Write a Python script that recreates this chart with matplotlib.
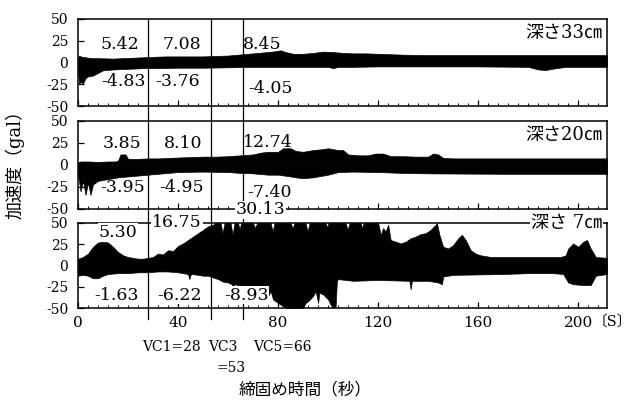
import matplotlib
matplotlib.use("Agg")
import matplotlib.pyplot as plt
from matplotlib.ticker import MultipleLocator, FixedLocator

plt.rcParams['font.family'] = ['DejaVu Serif', 'Noto Sans CJK JP']
plt.rcParams['axes.unicode_minus'] = False

# ---- acceleration envelopes (gal) over compaction time (s) ----
# depth 33 cm
t_up_33 = [0, 0.5, 1, 2, 3, 4, 6, 8, 10, 14, 18, 22, 26, 30, 35, 40, 45, 50, 55, 60,
           64, 68, 72, 76, 79, 81, 83, 86, 90, 94, 98, 102, 106, 110, 115, 120, 125,
           130, 140, 150, 160, 170, 180, 190, 200, 211.5]
up_33 = [6, 8, 7, 6.5, 6, 5.5, 5, 5, 4.8, 4.5, 5, 5.5, 6, 6.5, 7, 7, 7, 7, 7.5, 8,
         9, 10, 11, 12, 13, 14, 12, 10, 10, 11, 12.5, 12, 11, 10.5, 10.5, 10, 9.5,
         9, 8.5, 8.5, 8.5, 8.5, 8.5, 8.5, 8.5, 8.5]
t_lo_33 = [0, 0.5, 1, 2, 3, 4, 6, 8, 10, 14, 18, 22, 26, 30, 40, 50, 60, 70, 80, 90,
           100, 102, 104, 110, 120, 140, 160, 180, 184, 187, 190, 195, 211.5]
lo_33 = [-10, -25, -22, -24, -18, -16, -15, -12, -9, -8, -7.5, -7, -6.5, -6.5, -6,
         -6, -5.5, -5, -5, -5, -5, -6.5, -5, -5, -4.5, -4.5, -4.5, -5, -8, -8.6, -7,
         -5, -5]

# depth 20 cm
t_up_20 = [0, 1, 4, 8, 12, 15, 16, 17, 19, 20, 24, 28, 32, 36, 40, 45, 50, 55, 60,
           65, 70, 73, 76, 80, 82, 85, 87, 90, 94, 98, 100, 104, 106, 108, 112, 116,
           119, 122, 125, 130, 135, 140, 142, 144, 146, 150, 211.5]
up_20 = [3, 4, 4, 3.5, 4, 4, 5, 12, 12, 7, 7, 7.5, 7.5, 8, 8.5, 9, 9.5, 9.5, 10, 11,
         12, 14, 15, 15, 19, 19, 16, 15, 17, 18, 19, 17, 17, 12, 11, 11, 13, 13, 10,
         10, 9.5, 9.5, 13, 12, 8, 7.5, 7.5]
t_lo_20 = [0, 1, 2, 3, 4, 5, 6, 8, 10, 12, 14, 16, 20, 24, 28, 32, 36, 40, 50, 60,
           65, 70, 76, 80, 85, 87, 90, 94, 98, 100, 104, 110, 120, 130, 140, 170, 211.5]
lo_20 = [-10, -30, -18, -34, -20, -34, -22, -18, -17, -16, -15, -14, -13, -12, -11,
         -10, -9, -8, -7.5, -8, -9, -9.5, -11, -11, -13, -14, -15, -14, -12, -11, -8,
         -7.5, -8, -9, -9.5, -10, -10]

# depth 7 cm
t_up_7 = [0, 2, 4, 6, 8, 10, 12, 14, 16, 18, 20, 22, 24, 26, 28, 30, 32, 34, 36, 38,
          40, 42, 44, 46, 48, 50, 52, 54, 55, 57, 57.8, 58.6, 61, 61.8, 62.6, 64,
          64.6, 65.2, 70, 70.8, 71.6, 77, 77.8, 78.6, 85, 85.8, 86.6, 91, 91.8, 92.6,
          99, 99.6, 100.2, 107, 107.8, 108.6, 113, 113.6, 114.2, 120, 121, 122, 123,
          124, 125, 127, 129, 131, 133, 135, 137, 139, 141, 143, 143.5, 144.5, 146,
          148, 150, 152, 153.5, 155, 157, 159, 161, 165, 175, 185, 193, 195, 196,
          198, 200, 202, 203.5, 205, 207, 211.5]
up_7 = [8, 10, 14, 22, 27, 28, 27, 22, 16, 12, 10, 9, 8, 8, 9, 10, 14, 13, 18, 17,
        23, 26, 30, 34, 38, 42, 46, 48, 50, 50, 38, 50, 50, 36, 50, 50, 42, 50, 50,
        44, 50, 50, 40, 50, 50, 44, 50, 50, 40, 50, 50, 45, 50, 50, 42, 50, 50, 44,
        50, 50, 36, 44, 40, 48, 30, 28, 26, 28, 32, 34, 37, 38, 42, 48, 50, 36, 22,
        20, 24, 32, 36, 30, 18, 14, 12, 10, 10, 10, 10, 12, 20, 26, 22, 28, 30, 20,
        10, 9]
t_lo_7 = [0, 2, 4, 6, 8, 10, 12, 16, 20, 24, 28, 32, 36, 40, 44, 44.5, 45, 45.5, 48,
          50, 52, 54, 56, 58, 60, 61.5, 62, 62.5, 64, 66, 68, 70, 72, 74, 75.5, 76,
          77, 78, 80, 82, 83, 90, 91, 92, 94, 95, 96, 96.5, 98, 100, 101, 102, 103,
          103.5, 104, 110, 120, 132.5, 133, 133.5, 140, 144, 145.5, 146, 150, 160,
          170, 180, 190, 194, 196, 198, 202, 205, 207, 211.5]
lo_7 = [-12, -11, -12, -15, -15, -12, -10, -9, -9, -8, -8, -7, -7, -8, -10, -16,
        -11, -10, -11, -12, -12, -14, -16, -19, -20, -22, -35, -22, -23, -24, -26,
        -24, -28, -25, -30, -36, -30, -40, -44, -48, -50, -50, -44, -42, -36, -30,
        -44, -32, -34, -40, -46, -50, -48, -18, -16, -18, -17, -18, -28, -18, -18,
        -20, -22, -13, -11, -10.5, -10, -9, -9, -10, -20, -22, -23, -23, -12, -10]

depth_labels = ['深さ33㎝', '深さ20㎝', '深さ 7㎝']
pos_peaks = ['5.42', '7.08', '8.45', '3.85', '8.10', '12.74', '5.30', '16.75', '30.13']
neg_peaks = ['-4.83', '-3.76', '-4.05', '-3.95', '-4.95', '-7.40', '-1.63', '-6.22', '-8.93']
vc_times = [28, 53, 66]
x_ticks = [0, 40, 80, 120, 160, 200]
y_ticks = [-50, -25, 0, 25, 50]

series = [(t_up_33, up_33, t_lo_33, lo_33),
          (t_up_20, up_20, t_lo_20, lo_20),
          (t_up_7, up_7, t_lo_7, lo_7)]

fig = plt.figure(figsize=(6.34, 4.03), dpi=100)
W, H = 634.0, 403.0
left, right = 78, 607
panel_px = [(19, 106), (121, 209), (223, 308)]
axes = []
for top, bot in panel_px:
    ax = fig.add_axes([left / W, 1 - bot / H, (right - left) / W, (bot - top) / H])
    axes.append(ax)

gaps = [-67, -67, -63]
for i, ax in enumerate(axes):
    tu, up, tl, lo = series[i]
    ax.fill_between(tu, 0, up, color='black', lw=0.5, edgecolor='black', zorder=2)
    ax.fill_between(tl, lo, 0, color='black', lw=0.5, edgecolor='black', zorder=2)
    ax.set_xlim(0, 211.5)
    ax.set_ylim(-50, 50)
    ax.yaxis.set_major_locator(FixedLocator(y_ticks))
    ax.set_yticklabels([str(v) for v in y_ticks])
    ax.xaxis.set_major_locator(FixedLocator(x_ticks))
    ax.xaxis.set_minor_locator(MultipleLocator(4))
    ax.tick_params(axis='both', which='major', direction='in', length=4, width=0.9,
                   labelsize=10, pad=5)
    ax.tick_params(axis='x', which='minor', direction='in', length=2.5, width=0.7)
    ax.tick_params(axis='y', which='major', pad=7)
    for s in ax.spines.values():
        s.set_linewidth(1.1)
        s.set_color('black')
    if i < 2:
        ax.tick_params(axis='x', labelbottom=False)
    for vt in vc_times:
        ax.plot([vt, vt], [gaps[i], 50], color='black', lw=0.9, clip_on=False, zorder=3)
    ax.text(209.5, 34 if i < 2 else 50, depth_labels[i], ha='right', va='center',
            fontsize=13, zorder=6,
            bbox=dict(facecolor='white', edgecolor='none', pad=0.6) if i == 2 else None)

axes[2].tick_params(axis='x', which='major', labelsize=11, pad=6)

# peak values inside each panel
box = dict(facecolor='white', edgecolor='none', pad=0.5)
fs = 12.5
axes[0].text(16.8, 21, pos_peaks[0], ha='center', va='center', fontsize=fs, zorder=6)
axes[0].text(41.6, 21, pos_peaks[1], ha='center', va='center', fontsize=fs, zorder=6)
axes[0].text(65.8, 21, pos_peaks[2], ha='left', va='center', fontsize=fs, zorder=6)
axes[0].text(18, -22, neg_peaks[0], ha='center', va='center', fontsize=fs, zorder=6)
axes[0].text(40, -22, neg_peaks[1], ha='center', va='center', fontsize=fs, zorder=6)
axes[0].text(76.8, -30, neg_peaks[2], ha='center', va='center', fontsize=fs, zorder=6)

axes[1].text(17.6, 25, pos_peaks[3], ha='center', va='center', fontsize=fs, zorder=6)
axes[1].text(42, 25, pos_peaks[4], ha='center', va='center', fontsize=fs, zorder=6)
axes[1].text(65.8, 26, pos_peaks[5], ha='left', va='center', fontsize=fs, zorder=6)
axes[1].text(18, -26, neg_peaks[3], ha='center', va='center', fontsize=fs, zorder=6)
axes[1].text(41.6, -26, neg_peaks[4], ha='center', va='center', fontsize=fs, zorder=6)
axes[1].text(76.4, -31, neg_peaks[5], ha='center', va='center', fontsize=fs, zorder=6)
axes[1].text(72.8, -51, pos_peaks[8], ha='center', va='center', fontsize=fs, zorder=6,
             bbox=box, clip_on=False)

axes[2].text(16, 39, pos_peaks[6], ha='center', va='center', fontsize=fs, zorder=6, bbox=box)
axes[2].text(39.6, 51, pos_peaks[7], ha='center', va='center', fontsize=fs, zorder=6,
             bbox=box, clip_on=False)
axes[2].text(15.2, -35, neg_peaks[6], ha='center', va='center', fontsize=fs, zorder=6, bbox=box)
axes[2].text(40.8, -35, neg_peaks[7], ha='center', va='center', fontsize=fs, zorder=6, bbox=box)
axes[2].text(67.2, -35, neg_peaks[8], ha='center', va='center', fontsize=fs, zorder=6, bbox=box)

# unit after the last time tick
fig.text(593 / W, 1 - 322 / H, '〔S〕', ha='left', va='center', fontsize=10.5)

# compaction stage markers
fig.text(142 / W, 1 - 347 / H, 'VC1=28', ha='left', va='center', fontsize=10)
fig.text(208 / W, 1 - 347 / H, 'VC3', ha='left', va='center', fontsize=10)
fig.text(253 / W, 1 - 347 / H, 'VC5=66', ha='left', va='center', fontsize=10)
fig.text(217 / W, 1 - 368 / H, '=53', ha='left', va='center', fontsize=10)

fig.text(305 / W, 1 - 390 / H, '締固め時間（秒）', ha='center', va='center', fontsize=12)
fig.text(15 / W, 1 - 160 / H, '加速度（gal）', ha='center', va='center', fontsize=13,
         rotation=90)

fig.savefig('out.png', dpi=100)
